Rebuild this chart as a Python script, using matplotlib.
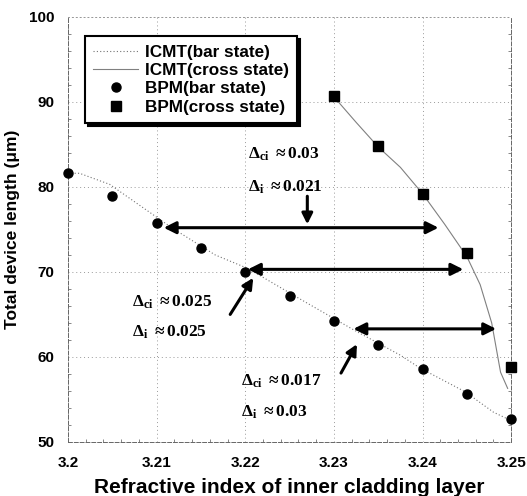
import matplotlib
matplotlib.use('Agg')
import matplotlib.pyplot as plt
from matplotlib.ticker import MultipleLocator

plt.rcParams['font.family'] = 'Liberation Sans'
plt.rcParams['font.weight'] = 'bold'
plt.rcParams['mathtext.fontset'] = 'custom'
plt.rcParams['mathtext.rm'] = 'Liberation Serif:bold'
plt.rcParams['mathtext.it'] = 'Liberation Serif:bold'
plt.rcParams['mathtext.bf'] = 'Liberation Serif:bold'

# BPM simulated points
bpm_bar_n = [3.2, 3.205, 3.21, 3.215, 3.22, 3.225, 3.23, 3.235, 3.24, 3.245, 3.25]
bpm_bar_L = [81.6, 78.9, 75.8, 72.8, 70.0, 67.2, 64.2, 61.4, 58.6, 55.6, 52.7]
bpm_cross_n = [3.23, 3.235, 3.24, 3.245, 3.25]
bpm_cross_L = [90.7, 84.8, 79.2, 72.2, 58.8]

# ICMT curves
icmt_bar_n = [3.2, 3.2013, 3.2047, 3.2117, 3.2166, 3.2203, 3.2262, 3.2322, 3.2375, 3.2397, 3.2448, 3.248, 3.25]
icmt_bar_L = [81.6, 81.6, 80.3, 75.2, 72.0, 70.4, 66.8, 63.2, 60.2, 58.7, 55.9, 53.5, 52.5]
icmt_cross_n = [3.23, 3.2325, 3.235, 3.2375, 3.24, 3.2425, 3.245, 3.2465, 3.2478, 3.2488, 3.2496]
icmt_cross_L = [90.6, 87.6, 84.7, 82.3, 79.2, 75.6, 71.8, 68.5, 64.0, 58.2, 56.3]

# tolerance annotations
tol_labels = [r'$\Delta_{ci}$ $\approx$0.03', r'$\Delta_{i}$ $\approx$0.021',
              r'$\Delta_{ci}$ $\approx$0.025', r'$\Delta_{i}$ $\approx$0.025',
              r'$\Delta_{ci}$ $\approx$0.017', r'$\Delta_{i}$ $\approx$0.03']
tol_x = [3.2203, 3.2203, 3.2072, 3.2072, 3.2195, 3.2195]
tol_y = [83.8, 80.0, 66.4, 62.9, 57.1, 53.5]

# double arrows (x_left, x_right, y)
spans = [(3.2108, 3.2418, 75.2), (3.2203, 3.2446, 70.3), (3.2322, 3.2483, 63.3)]
# single arrows (x_tail, y_tail, x_tip, y_tip)
pointers = [(3.227, 78.9, 3.227, 75.6), (3.2183, 65.0, 3.2209, 69.3), (3.2308, 58.1, 3.2326, 61.5)]

fig = plt.figure(figsize=(5.27, 4.96), dpi=100)
ax = fig.add_axes([0.129, 0.109, 0.841, 0.857])

ax.plot(icmt_bar_n, icmt_bar_L, color='0.45', lw=0.8, ls=(0, (1, 2)), label='ICMT(bar state)')
ax.plot(icmt_cross_n, icmt_cross_L, color='0.5', lw=0.8, ls='-', label='ICMT(cross state)')
ax.plot(bpm_bar_n, bpm_bar_L, 'o', color='k', ms=6.5, label='BPM(bar state)', clip_on=False, zorder=4)
ax.plot(bpm_cross_n, bpm_cross_L, 's', color='k', ms=6.5, label='BPM(cross state)', clip_on=False, zorder=4)

for x0, x1, y in spans:
    ax.annotate('', xy=(x1, y), xytext=(x0, y),
                arrowprops=dict(arrowstyle='<|-|>', lw=2.2, color='k', mutation_scale=18, shrinkA=0, shrinkB=0))
for xt, yt, xh, yh in pointers:
    ax.annotate('', xy=(xh, yh), xytext=(xt, yt),
                arrowprops=dict(arrowstyle='-|>', lw=2.2, color='k', mutation_scale=16, shrinkA=0, shrinkB=0))

for lab, x, y in zip(tol_labels, tol_x, tol_y):
    ax.text(x, y, lab, fontsize=12.5, va='center', ha='left', color='k',
            family='Liberation Serif', fontweight='bold')

ax.set_xlim(3.2, 3.25)
ax.set_ylim(50, 100)
ax.set_xticks([3.2, 3.21, 3.22, 3.23, 3.24, 3.25])
ax.set_xticklabels(['3.2', '3.21', '3.22', '3.23', '3.24', '3.25'])
ax.set_yticks([50, 60, 70, 80, 90, 100])
ax.yaxis.set_minor_locator(MultipleLocator(2))
ax.xaxis.set_minor_locator(MultipleLocator(0.002))
ax.tick_params(which='major', labelsize=11, length=0, pad=10)
ax.tick_params(which='minor', length=2.5, direction='in', color='0.45', width=0.6,
               right=True)
for t in ax.get_xticklabels() + ax.get_yticklabels():
    t.set_fontweight('bold')
ax.grid(True, color='0.6', ls=(0, (1, 3)), lw=0.7)
for s in ax.spines.values():
    s.set_color('0.4')
    s.set_linestyle((0, (4, 2)))
    s.set_linewidth(0.7)
ax.spines['top'].set_linestyle((0, (1, 3)))
ax.spines['top'].set_color('0.6')

ax.set_xlabel('Refractive index of inner cladding layer', fontsize=15, fontweight='bold', labelpad=6)
ax.set_ylabel('Total device length (\u03bcm)', fontsize=12.5, fontweight='bold', labelpad=6)

leg = ax.legend(loc='upper left', bbox_to_anchor=(0.038, 0.955), borderaxespad=0,
                fancybox=False, edgecolor='k', framealpha=1, fontsize=12.3, handlelength=2.6,
                labelspacing=0.2, borderpad=0.5, handletextpad=0.4,
                shadow={'color': 'k', 'alpha': 1})
leg.get_frame().set_linewidth(1.5)
for t in leg.get_texts():
    t.set_fontweight('bold')

fig.savefig('out.png', dpi=100)
